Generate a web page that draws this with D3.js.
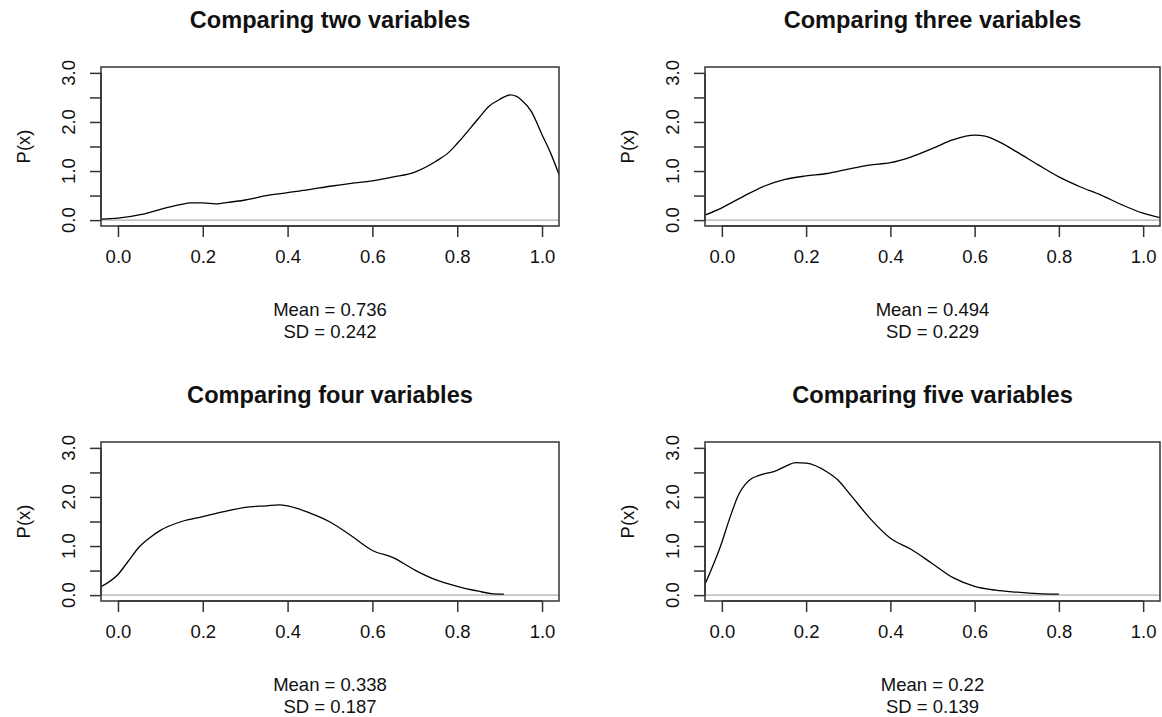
<!DOCTYPE html>
<html>
<head>
<meta charset="utf-8">
<script src="https://cdn.jsdelivr.net/npm/d3@7"></script>
<style>
  html, body { margin: 0; padding: 0; background: #fff; }
  svg { display: block; }
  text { font-family: "Liberation Sans", Arial, sans-serif; fill: #111; }
</style>
</head>
<body>
<svg id="chart" width="1162" height="717"></svg>
<script>
// Panel titles and summary statistics
const titles = ["Comparing two variables", "Comparing three variables",
                "Comparing four variables", "Comparing five variables"];
const means = ["0.736", "0.494", "0.338", "0.22"];
const sds = ["0.242", "0.229", "0.187", "0.139"];

// Axis ticks
const xTicks = [0, 0.2, 0.4, 0.6, 0.8, 1.0];
const xTickLabels = ["0.0", "0.2", "0.4", "0.6", "0.8", "1.0"];
const yTicks = [0, 0.5, 1, 1.5, 2, 2.5, 3];
const yLabelTicks = [0, 1, 2, 3];
const yTickLabels = ["0.0", "1.0", "2.0", "3.0"];

// Density estimates: evaluation points and P(x)
const x2 = [-0.04, 0, 0.056, 0.1, 0.15, 0.17, 0.2, 0.23, 0.25, 0.3, 0.35, 0.4, 0.45, 0.5, 0.55, 0.6, 0.65, 0.7, 0.75, 0.78, 0.8, 0.85, 0.875, 0.9, 0.925, 0.94, 0.95, 0.975, 1.0, 1.02, 1.04];
const p2 = [0.02, 0.04, 0.115, 0.22, 0.32, 0.35, 0.35, 0.33, 0.35, 0.41, 0.50, 0.56, 0.62, 0.69, 0.75, 0.80, 0.88, 0.98, 1.20, 1.38, 1.56, 2.07, 2.32, 2.46, 2.55, 2.52, 2.46, 2.21, 1.74, 1.37, 0.93];

const x3 = [-0.041, 0, 0.05, 0.1, 0.15, 0.2, 0.25, 0.3, 0.35, 0.4, 0.45, 0.5, 0.55, 0.6, 0.625, 0.65, 0.7, 0.75, 0.8, 0.85, 0.9, 0.95, 1.0, 1.04];
const p3 = [0.10, 0.25, 0.48, 0.69, 0.83, 0.90, 0.95, 1.04, 1.12, 1.17, 1.29, 1.46, 1.64, 1.73, 1.71, 1.63, 1.39, 1.13, 0.88, 0.68, 0.51, 0.31, 0.14, 0.05];

const x4 = [-0.04, 0, 0.025, 0.05, 0.075, 0.1, 0.15, 0.2, 0.25, 0.3, 0.35, 0.38, 0.4, 0.45, 0.5, 0.55, 0.6, 0.65, 0.7, 0.75, 0.8, 0.85, 0.88, 0.91];
const p4 = [0.17, 0.42, 0.70, 0.98, 1.17, 1.32, 1.50, 1.60, 1.70, 1.79, 1.82, 1.84, 1.82, 1.68, 1.49, 1.21, 0.91, 0.76, 0.51, 0.31, 0.18, 0.08, 0.03, 0.02];

const x5 = [-0.041, -0.026, -0.003, 0.02, 0.04, 0.055, 0.07, 0.085, 0.1, 0.125, 0.15, 0.175, 0.2, 0.25, 0.275, 0.3, 0.35, 0.4, 0.45, 0.5, 0.55, 0.6, 0.65, 0.7, 0.75, 0.8];
const p5 = [0.20, 0.50, 1.00, 1.60, 2.05, 2.25, 2.37, 2.43, 2.47, 2.52, 2.62, 2.70, 2.69, 2.51, 2.35, 2.10, 1.58, 1.16, 0.93, 0.64, 0.35, 0.18, 0.10, 0.06, 0.03, 0.02];

const series = [[x2, p2], [x3, p3], [x4, p4], [x5, p5]];

// Plot regions (box edges) for the 2x2 grid
const boxes = [
  { left: 101, right: 559, top: 67, bottom: 226 },
  { left: 705, right: 1160, top: 67, bottom: 226 },
  { left: 101, right: 559, top: 442, bottom: 601 },
  { left: 705, right: 1160, top: 442, bottom: 601 }
];

const svg = d3.select("#chart");
const xDomain = [-0.04, 1.04];   // 0..1 padded by 4%
const yDomain = [-0.12, 3.12];   // 0..3 padded by 4%
const tickLen = 11;
const axisColor = "#333";

boxes.forEach((b, i) => {
  const x = d3.scaleLinear().domain(xDomain).range([b.left, b.right]);
  const y = d3.scaleLinear().domain(yDomain).range([b.bottom, b.top]);
  const g = svg.append("g");

  // clip to the plot region
  const clipId = "clip" + i;
  svg.append("defs").append("clipPath").attr("id", clipId)
    .append("rect").attr("x", b.left).attr("y", b.top)
    .attr("width", b.right - b.left).attr("height", b.bottom - b.top);

  // reference line at zero
  g.append("line")
    .attr("x1", b.left).attr("x2", b.right)
    .attr("y1", y(0)).attr("y2", y(0))
    .attr("stroke", "#c4c4c4").attr("stroke-width", 1.6);

  // density curve
  const [xs, ps] = series[i];
  const pts = xs.map((v, k) => [v, ps[k]]);
  const line = d3.line().x(d => x(d[0])).y(d => y(d[1])).curve(d3.curveMonotoneX);
  g.append("path").datum(pts)
    .attr("clip-path", `url(#${clipId})`)
    .attr("d", line)
    .attr("fill", "none").attr("stroke", "#000").attr("stroke-width", 1.3);

  // box
  g.append("rect")
    .attr("x", b.left).attr("y", b.top)
    .attr("width", b.right - b.left).attr("height", b.bottom - b.top)
    .attr("fill", "none").attr("stroke", axisColor).attr("stroke-width", 1.5);

  // x axis
  const xAxis = d3.axisBottom(x).tickValues(xTicks)
    .tickFormat((d, k) => xTickLabels[k]).tickSizeInner(tickLen).tickSizeOuter(0).tickPadding(13);
  const gx = g.append("g").attr("transform", `translate(0,${b.bottom})`).call(xAxis);
  gx.select(".domain").attr("d", `M${x(0)},0H${x(1)}`).attr("stroke", axisColor).attr("stroke-width", 1.5);
  gx.selectAll(".tick line").attr("stroke", axisColor).attr("stroke-width", 1.5);
  gx.selectAll(".tick text").attr("fill", "#111")
    .style("font-family", '"Liberation Sans", Arial, sans-serif').style("font-size", "18.5px");

  // y axis: ticks every 0.5, labels at whole numbers, rotated
  const yAxis = d3.axisLeft(y).tickValues(yTicks).tickFormat("").tickSizeInner(tickLen).tickSizeOuter(0);
  const gy = g.append("g").attr("transform", `translate(${b.left},0)`).call(yAxis);
  gy.select(".domain").attr("d", `M0,${y(0)}V${y(3)}`).attr("stroke", axisColor).attr("stroke-width", 1.5);
  gy.selectAll(".tick line").attr("stroke", axisColor).attr("stroke-width", 1.5);
  yLabelTicks.forEach((v, k) => {
    const lx = b.left - 26, ly = y(v);
    g.append("text")
      .attr("transform", `translate(${lx},${ly}) rotate(-90)`)
      .attr("text-anchor", "middle")
      .style("font-size", "18.5px")
      .text(yTickLabels[k]);
  });

  // y label
  g.append("text")
    .attr("transform", `translate(${b.left - 71},${(b.top + b.bottom) / 2}) rotate(-90)`)
    .attr("text-anchor", "middle")
    .style("font-size", "18.5px")
    .text("P(x)");

  // title
  g.append("text")
    .attr("x", (b.left + b.right) / 2).attr("y", b.top - 39)
    .attr("text-anchor", "middle")
    .style("font-size", "23.6px").style("font-weight", "bold")
    .text(titles[i]);

  // summary statistics below the axis
  g.append("text")
    .attr("x", (b.left + b.right) / 2).attr("y", b.bottom + 90)
    .attr("text-anchor", "middle").style("font-size", "18.5px")
    .text("Mean = " + means[i]);
  g.append("text")
    .attr("x", (b.left + b.right) / 2).attr("y", b.bottom + 112)
    .attr("text-anchor", "middle").style("font-size", "18.5px")
    .text("SD = " + sds[i]);
});
</script>
</body>
</html>
